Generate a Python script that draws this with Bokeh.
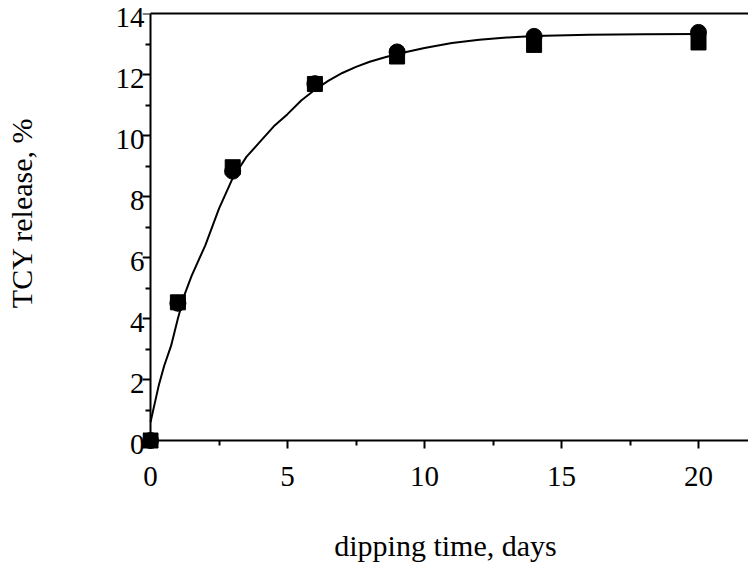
from bokeh.plotting import figure
from bokeh.models import Range1d, LinearAxis, FixedTicker
from bokeh.embed import file_html
from bokeh.resources import INLINE

# ---- data ----
days = [0, 1, 3, 6, 9, 14, 20]
release_squares = [0.0, 4.53, 8.96, 11.69, 12.59, 12.97, 13.05]
release_circles = [0.0, 4.50, 8.83, 11.70, 12.74, 13.25, 13.38]

fit_days = [0, 0.15, 0.3, 0.5, 0.75, 1.0, 1.25, 1.5, 2.0, 2.5, 3.0, 3.5, 4.0, 4.5, 5.0,
            5.5, 6.0, 6.5, 7.0, 7.5, 8.0, 8.5, 9.0, 10.0, 11.0, 12.0, 13.0, 14.0,
            16.0, 18.0, 20.0]
fit_release = [0.6, 1.2, 1.8, 2.45, 3.1, 4.0, 4.8, 5.4, 6.4, 7.6, 8.6, 9.3, 9.8, 10.3, 10.7,
               11.15, 11.5, 11.8, 12.05, 12.25, 12.42, 12.55, 12.67, 12.87, 13.03, 13.14,
               13.21, 13.26, 13.3, 13.32, 13.33]

x_ticks = [0, 5, 10, 15, 20]
x_minor = [2.5, 7.5, 12.5, 17.5]
y_ticks = [0, 2, 4, 6, 8, 10, 12, 14]
y_minor = [1, 3, 5, 7, 9, 11, 13]

x_title = "dipping time, days"
y_title = "TCY release, %"

FONT = "Liberation Serif"

W, H = 748, 569
FRAME_L, FRAME_T, FRAME_B = 142, 13, 449
PX_PER_DAY = 27.4
PX_PER_PCT = 30.5
x_start = -8 / PX_PER_DAY
x_end = x_start + (W - FRAME_L) / PX_PER_DAY
y_start = -9 / PX_PER_PCT
y_end = 14
label_shift = 4 / PX_PER_PCT  # tick labels sit a few pixels below their ticks

p = figure(width=W, height=H, output_backend="svg", toolbar_location=None,
           x_range=Range1d(x_start, x_end), y_range=Range1d(y_start, y_end),
           x_axis_location=None, y_axis_location=None,
           min_border_left=FRAME_L, min_border_right=0, min_border_top=FRAME_T,
           min_border_bottom=H - FRAME_B)
p.extra_y_ranges = {"labels": Range1d(y_start + label_shift, y_end + label_shift)}
p.outline_line_color = None
p.background_fill_color = "white"
p.border_fill_color = "white"
p.grid.grid_line_color = None
p.grid.visible = False


def line_axis(axis, ticks, minor):
    axis.ticker = FixedTicker(ticks=ticks, minor_ticks=minor)
    axis.major_label_text_font_size = "0px"
    axis.major_label_text_color = None
    axis.axis_line_width = 2
    axis.axis_line_color = "black"
    axis.major_tick_line_width = 2
    axis.minor_tick_line_width = 2
    axis.major_tick_out = 8
    axis.major_tick_in = 0
    axis.minor_tick_out = 5
    axis.minor_tick_in = 0


def label_axis(axis, ticks):
    axis.ticker = FixedTicker(ticks=ticks, minor_ticks=[])
    axis.axis_line_color = None
    axis.major_tick_line_color = None
    axis.minor_tick_line_color = None
    axis.major_tick_out = 0
    axis.minor_tick_out = 0
    axis.major_label_text_font = FONT
    axis.major_label_text_font_size = "29px"
    axis.major_label_text_color = "black"
    axis.axis_label_text_font = FONT
    axis.axis_label_text_font_size = "30px"
    axis.axis_label_text_font_style = "normal"
    axis.axis_label_text_color = "black"


# axis lines and ticks, anchored at the data origin
xl = LinearAxis(fixed_location=0, bounds=(0, x_end))
line_axis(xl, x_ticks, x_minor)
p.add_layout(xl, "below")
yl = LinearAxis(fixed_location=0, bounds=(0, 14))
line_axis(yl, y_ticks, y_minor)
p.add_layout(yl, "left")

# tick labels and titles
xt = LinearAxis(axis_label=x_title)
label_axis(xt, x_ticks)
xt.major_label_standoff = 17
xt.axis_label_standoff = 40
p.add_layout(xt, "below")
# leading non-breaking spaces lift the rotated title as in the reference
yt = LinearAxis(axis_label="\u00a0" * 5 + y_title, y_range_name="labels")
label_axis(yt, y_ticks)
yt.major_label_standoff = -2
yt.axis_label_standoff = 75
p.add_layout(yt, "left")

top = LinearAxis(bounds=(0, x_end), major_tick_line_color=None, minor_tick_line_color=None,
                 major_label_text_font_size="0px", axis_line_width=2)
top.ticker = FixedTicker(ticks=[])
p.add_layout(top, "above")

p.line(fit_days, fit_release, line_color="black", line_width=2)
p.scatter(days, release_circles, marker="circle", size=16, fill_color="black", line_color="black")
p.scatter(days, release_squares, marker="square", size=15, fill_color="black", line_color="black")

open("out.html", "w").write(file_html(p, INLINE))
